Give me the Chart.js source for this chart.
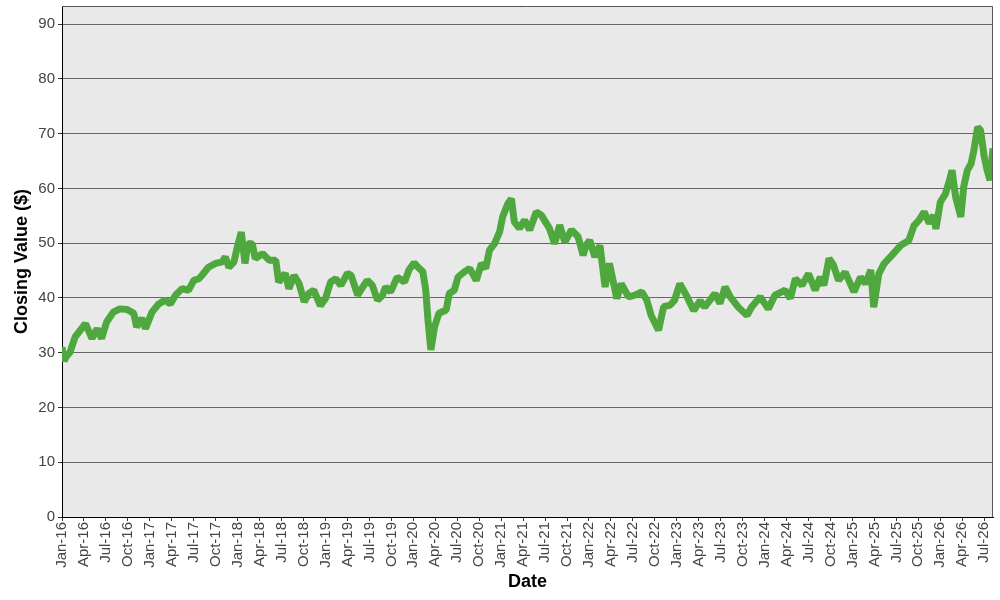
<!DOCTYPE html>
<html>
<head>
<meta charset="utf-8">
<title>Closing Value</title>
<script src="https://cdn.jsdelivr.net/npm/chart.js@4.4.1/dist/chart.umd.min.js"></script>
<style>
  html, body { margin: 0; padding: 0; background: #fff; }
  #wrap { width: 1000px; height: 600px; }
</style>
</head>
<body>
<div id="wrap"><canvas id="closing" width="1000" height="600"></canvas></div>
<script>
// x values are months counted from Jan 2016 (0 = Jan-16)
var monthIndex = [
  0, 0.3, 0.6, 1.1, 1.8, 2.5, 3.2, 3.6, 4.1, 4.8, 5.4, 6.1, 7.0, 7.9, 8.9, 9.8,
  10.2, 10.9, 11.4, 12.3, 13.2, 14.1, 14.8, 15.5, 16.4, 17.3, 18.0, 18.7, 19.1, 20.0,
  21.0, 21.9, 22.3, 22.8, 23.5, 23.9, 24.5, 25.0, 25.4, 26.0, 26.4, 27.4, 28.3, 29.2,
  29.6, 30.5, 31.0, 31.7, 32.4, 33.1, 33.7, 34.4, 35.3, 36.0, 36.7, 37.4, 38.1, 39.0,
  39.5, 40.4, 41.1, 41.7, 42.4, 43.1, 43.8, 44.2, 44.9, 45.8, 46.8, 47.4, 48.1, 48.8,
  49.3, 49.7, 50.0, 50.4, 50.9, 51.5, 52.5, 52.9, 53.6, 54.1, 55.0, 55.7, 56.6, 57.3,
  57.9, 58.4, 59.1, 59.8, 60.2, 60.9, 61.4, 61.8, 62.5, 63.2, 63.9, 64.8, 65.5, 65.9,
  66.6, 67.3, 68.0, 68.7, 69.6, 70.5, 71.2, 71.6, 72.1, 72.8, 73.5, 74.2, 74.8, 75.8,
  76.4, 77.4, 78.3, 79.2, 79.9, 80.5, 81.5, 82.2, 83.1, 83.7, 84.4, 85.3, 86.3, 87.2,
  87.8, 89.2, 89.9, 90.6, 91.3, 92.4, 93.6, 94.2, 95.4, 96.5, 97.4, 98.8, 99.5, 100.2,
  101.1, 102.0, 102.9, 103.6, 104.1, 104.8, 105.4, 106.1, 107.0, 108.2, 109.1, 109.8,
  110.5, 110.9, 111.6, 112.3, 113.4, 114.6, 115.7, 116.4, 117.1, 117.8, 118.5, 119.1,
  119.4, 120.0, 120.7, 121.2, 121.6, 122.1, 122.8, 123.2, 123.7, 124.2, 124.6, 125.1,
  125.5, 126.0, 126.4, 126.8, 127.1, 127.2
];
var closingValue = [
  31.0, 28.5, 29.3, 30.1, 32.9, 34.1, 35.3, 34.1, 32.6, 34.4, 32.6, 35.6, 37.4, 38.0, 37.9, 37.2,
  34.7, 36.3, 34.4, 37.4, 38.9, 39.6, 38.9, 40.5, 41.7, 41.4, 43.2, 43.5, 44.1, 45.6,
  46.3, 46.6, 47.5, 45.6, 46.6, 49.0, 52.0, 46.3, 49.9, 49.9, 47.2, 48.1, 46.9, 46.9,
  42.9, 44.5, 41.7, 44.1, 42.6, 39.3, 40.8, 41.4, 38.6, 39.9, 42.9, 43.5, 42.3, 44.5,
  44.1, 40.5, 42.0, 43.2, 42.3, 39.6, 40.5, 42.0, 41.1, 43.8, 42.9, 45.1, 46.4, 45.4,
  44.8, 41.4, 36.0, 30.5, 34.7, 37.2, 37.8, 40.8, 41.4, 43.8, 44.8, 45.4, 43.2, 46.3,
  45.4, 48.7, 49.9, 52.1, 54.8, 57.2, 58.1, 53.9, 52.7, 54.2, 52.4, 55.7, 55.1, 54.2,
  52.7, 49.9, 53.3, 50.2, 52.4, 51.2, 47.8, 49.6, 50.5, 47.5, 49.6, 42.0, 46.3, 39.9,
  42.6, 40.2, 40.5, 41.1, 39.6, 36.8, 34.1, 38.4, 38.7, 39.6, 42.6, 40.5, 37.7, 39.5,
  38.3, 40.8, 39.0, 42.0, 40.2, 38.3, 36.8, 38.3, 40.2, 38.0, 40.5, 41.4, 39.9, 43.5,
  42.3, 44.4, 41.4, 43.8, 42.3, 47.2, 46.0, 43.2, 44.7, 41.1, 43.8, 42.6,
  45.1, 38.3, 44.4, 46.2, 47.8, 49.6, 50.5, 53.2, 54.2, 55.7, 53.6, 55.1,
  52.6, 57.5, 59.0, 61.2, 63.3, 58.4, 54.8, 60.3, 63.3, 64.5, 67.0, 71.2,
  70.6, 65.8, 63.3, 61.5, 65.8, 67.3
];
// one label every 3 months, Jan-16 .. Jul-26
var tickLabels = [
  'Jan-16', 'Apr-16', 'Jul-16', 'Oct-16', 'Jan-17', 'Apr-17', 'Jul-17', 'Oct-17',
  'Jan-18', 'Apr-18', 'Jul-18', 'Oct-18', 'Jan-19', 'Apr-19', 'Jul-19', 'Oct-19',
  'Jan-20', 'Apr-20', 'Jul-20', 'Oct-20', 'Jan-21', 'Apr-21', 'Jul-21', 'Oct-21',
  'Jan-22', 'Apr-22', 'Jul-22', 'Oct-22', 'Jan-23', 'Apr-23', 'Jul-23', 'Oct-23',
  'Jan-24', 'Apr-24', 'Jul-24', 'Oct-24', 'Jan-25', 'Apr-25', 'Jul-25', 'Oct-25',
  'Jan-26', 'Apr-26', 'Jul-26'
];
var yTicks = [0, 10, 20, 30, 40, 50, 60, 70, 80, 90];

var FONT = '"Liberation Sans", Arial, sans-serif';

var plotBackground = {
  id: 'plotBackground',
  beforeDraw: function (chart) {
    var a = chart.chartArea, ctx = chart.ctx;
    ctx.save();
    ctx.fillStyle = '#e9e9e9';
    ctx.fillRect(a.left, a.top, a.right - a.left, a.bottom - a.top);
    ctx.restore();
  },
  afterDraw: function (chart) {
    var a = chart.chartArea, ctx = chart.ctx;
    ctx.save();
    ctx.lineWidth = 1;
    ctx.strokeStyle = '#555';
    ctx.beginPath();
    ctx.moveTo(a.left, a.top + 0.5);
    ctx.lineTo(a.right - 0.5, a.top + 0.5);
    ctx.lineTo(a.right - 0.5, a.bottom);
    ctx.stroke();
    ctx.restore();
  }
};

var points = monthIndex.map(function (m, i) { return {x: m, y: closingValue[i]}; });

const ctx = document.getElementById('closing').getContext('2d');
const chart = new Chart(ctx, {
  type: 'line',
  data: {
    datasets: [{
      label: 'Closing Value',
      data: points,
      borderColor: '#4fa83d',
      borderWidth: 7,
      borderJoinStyle: 'bevel',
      pointRadius: 0,
      tension: 0,
      fill: false
    }]
  },
  options: {
    responsive: false,
    animation: false,
    layout: {padding: {top: 6, right: 7, left: 0, bottom: 0}},
    plugins: {legend: {display: false}, tooltip: {enabled: false}},
    scales: {
      x: {
        type: 'linear',
        min: 0,
        max: 127.2,
        afterBuildTicks: function (scale) {
          scale.ticks = tickLabels.map(function (l, i) { return {value: i * 3}; });
        },
        afterFit: function (scale) {
          scale.height = 83;
          scale.paddingLeft = 0;
          scale.paddingRight = 0;
        },
        ticks: {
          autoSkip: false,
          minRotation: 90,
          maxRotation: 90,
          padding: 1,
          color: '#444',
          font: {family: FONT, size: 15},
          callback: function (value) { return tickLabels[Math.round(value / 3)]; }
        },
        grid: {drawOnChartArea: false, drawTicks: true, tickLength: 4, color: '#333'},
        border: {color: '#000', width: 1},
        title: {
          display: true,
          text: 'Date',
          color: '#000',
          font: {family: FONT, size: 18, weight: 'bold'},
          padding: {top: 0, bottom: 7}
        }
      },
      y: {
        min: 0,
        max: 93.3,
        afterBuildTicks: function (scale) {
          scale.ticks = yTicks.map(function (v) { return {value: v}; });
        },
        afterFit: function (scale) {
          scale.width = 62;
          scale.paddingTop = 0;
          scale.paddingBottom = 0;
        },
        ticks: {
          padding: 3,
          color: '#444',
          font: {family: FONT, size: 15}
        },
        grid: {color: '#666', lineWidth: 1, tickLength: 4, tickColor: '#333'},
        border: {color: '#000', width: 1},
        title: {
          display: true,
          text: 'Closing Value ($)',
          color: '#000',
          font: {family: FONT, size: 18, weight: 'bold'},
          padding: {top: 11, bottom: 0}
        }
      }
    }
  },
  plugins: [plotBackground]
});
</script>
</body>
</html>
